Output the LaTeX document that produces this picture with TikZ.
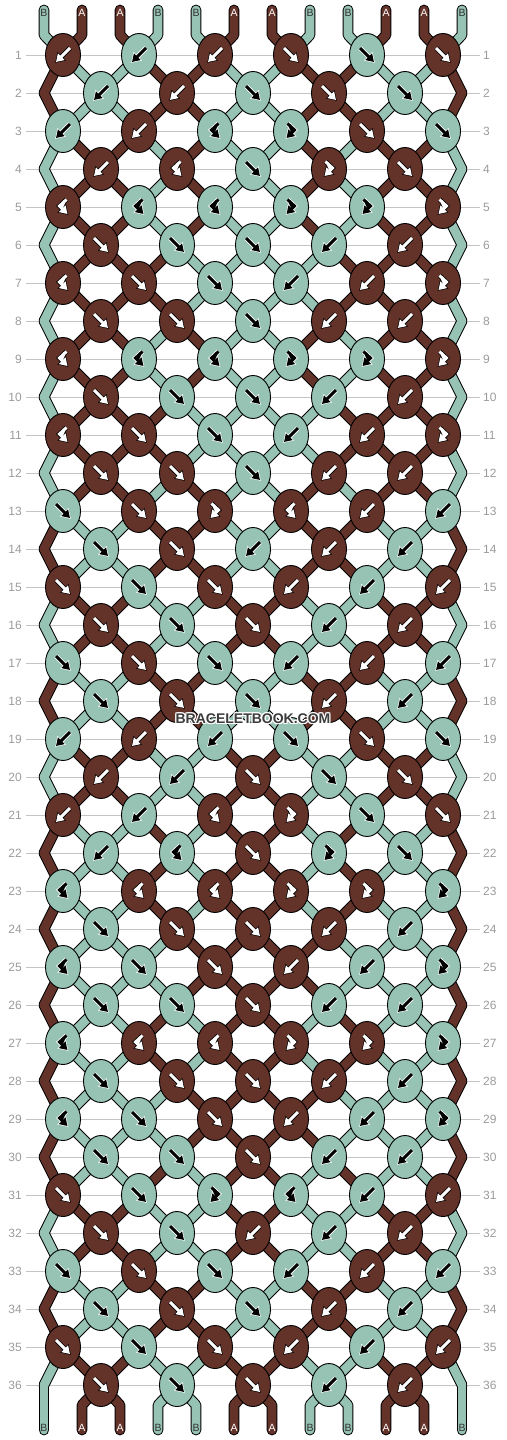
\documentclass[tikz,border=0pt]{standalone}
\usepackage{fontspec}
\setmainfont{Liberation Sans}
\usetikzlibrary{arrows.meta,shapes.geometric}
\definecolor{colA}{HTML}{633229}
\definecolor{colB}{HTML}{97C3B4}
\definecolor{gridc}{HTML}{C4C4C4}
\definecolor{numc}{HTML}{9B9B9B}
\definecolor{wmc}{HTML}{3C3C3C}
\definecolor{labB}{HTML}{333333}
\pgfdeclarelayer{gridlayer}
\pgfdeclarelayer{thicklayer}
\pgfdeclarelayer{thinlayer}
\pgfsetlayers{gridlayer,thicklayer,thinlayer,main}

\def\SX{A,B,B,A,A,B,B,A,A,B,B,A}
\def\SY{B,A,A,B,B,A,A,B,B,A,A,B}
\def\SZ{B,A,A,B,A,B,B,A,B,A,A,B}
\def\SW{B,A,A,A,B,B,B,B,A,A,A,B}
\def\SU{A,B,B,A,B,A,A,B,A,B,B,A}
\def\SV{A,B,B,B,A,A,A,A,B,B,B,A}

\def\parseknot#1#2\relax{\def\kcol{#1}\def\ktype{#2}}

\newcommand\sethold[2]{%
  \ifodd#1\relax
    \pgfmathtruncatemacro\hcol{(#2+1)/2}\edef\hname{k-#1-\hcol}%
  \else
    \ifnum#2=1\relax\edef\hname{eL-#1}%
    \else\ifnum#2=12\relax\edef\hname{eR-#1}%
    \else\pgfmathtruncatemacro\hcol{#2/2}\edef\hname{k-#1-\hcol}%
    \fi\fi
  \fi}

\newcommand\drawthreads[1]{%
  \foreach \rr/\ss in {1/X,2/X,3/Z,4/Z,5/Z,6/W,7/W,8/Z,9/Z,10/W,11/W,12/Z,13/X,14/X,15/Y,16/Y,17/X,18/X,19/Y,20/Y,21/U,22/U,23/U,24/V,25/V,26/U,27/U,28/V,29/V,30/U,31/Y,32/Y,33/X,34/X,35/Y}{%
    \pgfmathtruncatemacro\rn{\rr+1}%
    \edef\lst{\csname S\ss\endcsname}%
    \foreach \cl [count=\p] in \lst {%
      \sethold{\rr}{\p}\let\ha\hname
      \sethold{\rn}{\p}\let\hb\hname
      \draw[th\cl,#1] (\ha.center) -- (\hb.center);
    }%
  }%
  \foreach \cl [count=\p] in \SY {%
    \pgfmathtruncatemacro\kc{(\p+1)/2}%
    \draw[th\cl,#1] (t-\p) -- (tb-\p) -- (k-1-\kc.center);
  }%
  \foreach \cl [count=\p] in \SY {%
    \sethold{36}{\p}\let\ha\hname
    \ifnum\p=1\relax
      \draw[th\cl,#1] (\ha.center) -- (b-\p);
    \else\ifnum\p=12\relax
      \draw[th\cl,#1] (\ha.center) -- (b-\p);
    \else
      \draw[th\cl,#1] (\ha.center) -- (bb-\p) -- (b-\p);
    \fi\fi
  }%
}

\tikzset{
  knot/.style={ellipse, draw=black, line width=0.9pt, minimum width=35pt, minimum height=43pt, inner sep=0pt},
  knD/.style={fill=colA}, knG/.style={fill=colB},
  thA/.style={draw=colA}, thB/.style={draw=colB},
  outer/.style={line width=10.8pt, draw=black, line cap=round, line join=round},
  inner/.style={line width=8.8pt, line cap=round, line join=round},
  haloD/.style={draw=black, line width=4.6pt, shorten >=-1.2pt, -{Triangle[length=9.5pt,width=11.5pt]}},
  haloG/.style={draw=white, line width=4.6pt, shorten >=-1.2pt, -{Triangle[length=9.5pt,width=11.5pt]}},
  arwD/.style={draw=white, fill=white, line width=3pt, -{Triangle[length=7.5pt,width=9pt]}},
  arwG/.style={draw=black, fill=black, line width=3pt, -{Triangle[length=7.5pt,width=9pt]}},
  pics/symF/.style={code={\draw[halo#1] (-7,-7) -- (7,7); \draw[arw#1] (-7,-7) -- (7,7);}},
  pics/symB/.style={code={\draw[halo#1] (7,-7) -- (-7,7); \draw[arw#1] (7,-7) -- (-7,7);}},
  pics/symf/.style={code={\draw[halo#1] (-3.5,-7.5) -- (3.5,-1) -- (-4.5,7); \draw[arw#1] (-3.5,-7.5) -- (3.5,-1) -- (-4.5,7);}},
  pics/symb/.style={code={\draw[halo#1] (3.5,-7.5) -- (-3.5,-1) -- (4.5,7); \draw[arw#1] (3.5,-7.5) -- (-3.5,-1) -- (4.5,7);}},
  num/.style={text=numc, font=\fontsize{12}{14}\selectfont, inner sep=0pt},
  gridline/.style={draw=gridc, line width=1pt},
  lab/.style={font=\fontsize{10.5}{12}\selectfont, inner sep=0pt},
  labA/.style={lab, text=white}, labB/.style={lab, text=labB},
  wm/.style={font=\bfseries\fontsize{14}{16}\selectfont, inner sep=0pt}
}

\begin{document}
\begin{tikzpicture}[x=1pt,y=-1pt]
\useasboundingbox (0,0) rectangle (506,1440);

% row numbers and guide lines
\foreach \rr in {1,...,36}{
  \pgfmathsetmacro\ky{38*\rr+17}
  \node[num, anchor=east] (nl-\rr) at (22,\ky) {\rr};
  \node[num, anchor=west] (nr-\rr) at (483,\ky) {\rr};
  \begin{pgfonlayer}{gridlayer}
    \draw[gridline] ([xshift=4pt]nl-\rr.east) -- ([xshift=-3pt]nr-\rr.west);
  \end{pgfonlayer}
}

% thread end points and edge turning points
\foreach \p in {1,...,12}{
  \pgfmathsetmacro\tx{38*\p+6}
  \coordinate (t-\p) at (\tx,10);
  \coordinate (tb-\p) at (\tx,35);
  \coordinate (bb-\p) at (\tx,1405);
  \coordinate (b-\p) at (\tx,1430);
}
\foreach \rr in {2,4,...,36}{
  \pgfmathsetmacro\ky{38*\rr+17}
  \coordinate (eL-\rr) at (44,\ky);
  \coordinate (eR-\rr) at (462,\ky);
}

% knots
\foreach \rr/\row in {
 1/{DB,GB,DB,DF,GF,DF},
 2/{GB,DB,GF,DF,GF},
 3/{GB,DB,Gb,Gf,DF,GF},
 4/{DB,Db,GF,Df,DF},
 5/{Db,Gb,Gb,Gf,Gf,Df},
 6/{DF,GF,GF,GB,DB},
 7/{Db,DF,GF,GB,DB,Df},
 8/{DF,DF,GF,DB,DB},
 9/{Db,Gb,Gb,Gf,Gf,Df},
 10/{DF,GF,GF,GB,DB},
 11/{Db,DF,GF,GB,DB,Df},
 12/{DF,DF,GF,DB,DB},
 13/{GF,DF,Df,Db,DB,GB},
 14/{GF,DF,GB,DB,GB},
 15/{DF,GF,DF,DB,GB,DB},
 16/{DF,GF,DF,GB,DB},
 17/{GF,DF,GF,GB,DB,GB},
 18/{GF,DF,GF,DB,GB},
 19/{GB,DB,GB,GF,DF,GF},
 20/{DB,GB,DF,GF,DF},
 21/{DB,GB,Db,Df,GF,DF},
 22/{GB,Gb,DF,Gf,GF},
 23/{Gb,Db,Db,Df,Df,Gf},
 24/{GF,DF,DF,DB,GB},
 25/{Gb,GF,DF,DB,GB,Gf},
 26/{GF,GF,DF,GB,GB},
 27/{Gb,Db,Db,Df,Df,Gf},
 28/{GF,DF,DF,DB,GB},
 29/{Gb,GF,DF,DB,GB,Gf},
 30/{GF,GF,DF,GB,GB},
 31/{DF,GF,Gf,Gb,GB,DB},
 32/{DF,GF,DB,GB,DB},
 33/{GF,DF,GF,GB,DB,GB},
 34/{GF,DF,GF,DB,GB},
 35/{DF,GF,DF,DB,GB,DB},
 36/{DF,GF,DF,GB,DB}}{
  \foreach \kd [count=\kk] in \row {
    \expandafter\parseknot\kd\relax
    \ifodd\rr\relax \pgfmathsetmacro\kx{76*\kk-13}\else \pgfmathsetmacro\kx{76*\kk+25}\fi
    \pgfmathsetmacro\ky{38*\rr+17}
    \node[knot, kn\kcol] (k-\rr-\kk) at (\kx,\ky) {};
    \pic at (k-\rr-\kk.center) {sym\ktype=\kcol};
  }
}

% threads
\begin{pgfonlayer}{thicklayer}
  \drawthreads{outer}
\end{pgfonlayer}
\begin{pgfonlayer}{thinlayer}
  \drawthreads{inner}
\end{pgfonlayer}

% end labels
\foreach \cl [count=\p] in \SY {
  \node[lab\cl] (lt-\p) at ([yshift=-2.5pt]t-\p) {\cl};
  \node[lab\cl] (lb-\p) at ([yshift=2pt]b-\p) {\cl};
}

% watermark
\foreach \dx/\dy [count=\i] in {-1/0,1/0,0/-1,0/1,-1/-1,1/1,-1/1,1/-1}{
  \node[wm, text=white] (wmh-\i) at (253+\dx,719+\dy) {BRACELETBOOK.COM};
}
\node[wm, text=wmc] (wm) at (253,719) {BRACELETBOOK.COM};
\end{tikzpicture}
\end{document}
